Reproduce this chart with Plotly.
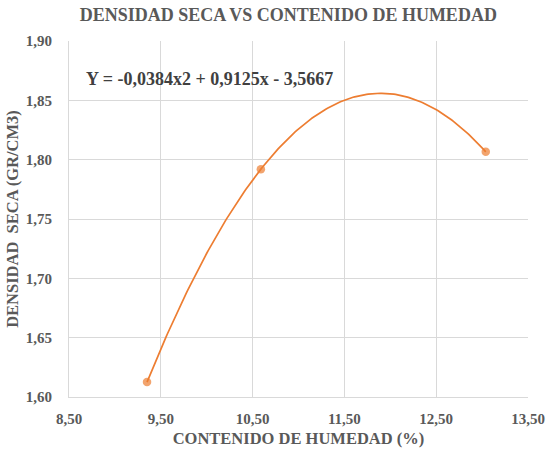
import numpy as np
import plotly.graph_objects as go

# Measured points: moisture content (%) vs dry density (g/cm3)
humedad = [9.35, 10.59, 13.04]
densidad = [1.6126, 1.7920, 1.8066]

x_ticks = [8.5, 9.5, 10.5, 11.5, 12.5, 13.5]
y_ticks = [1.60, 1.65, 1.70, 1.75, 1.80, 1.85, 1.90]

ecuacion = "Y = -0,0384x2 + 0,9125x - 3,5667"

# Second-order polynomial trendline through the measurements
coef = np.polyfit(humedad, densidad, 2)
xs = np.linspace(min(humedad), max(humedad), 200)
ys = np.polyval(coef, xs)

orange = "#ED7D31"
gray = "#595959"
serif = "Liberation Serif, Times New Roman, serif"


def bold(size, color=gray):
    return dict(family=serif, size=size, color=color, weight="bold")


fig = go.Figure()
fig.add_trace(go.Scatter(x=xs, y=ys, mode="lines",
                         line=dict(color=orange, width=1.7),
                         hoverinfo="skip", showlegend=False))
fig.add_trace(go.Scatter(x=humedad, y=densidad, mode="markers",
                         marker=dict(color="rgba(237,125,49,0.7)", size=8.5),
                         showlegend=False))

fig.add_annotation(x=8.66, y=1.868, xref="x", yref="y", text=ecuacion,
                   showarrow=False, xanchor="left", yanchor="middle",
                   font=bold(18, "#404040"))

fig.update_layout(
    width=547, height=453,
    margin=dict(l=69, r=19, t=41, b=56),
    paper_bgcolor="white", plot_bgcolor="white",
    separators=",.",
    title=dict(text="DENSIDAD SECA VS CONTENIDO DE HUMEDAD",
               x=0.527, xanchor="center", y=0.968, yanchor="middle",
               font=bold(18)),
    xaxis=dict(range=[8.5, 13.5], tickvals=x_ticks, tickformat=".2f",
               showgrid=True, gridcolor="#D9D9D9", gridwidth=1,
               zeroline=False, showline=True, linecolor="#D9D9D9",
               ticks="", ticklabelstandoff=8, automargin=False,
               tickfont=bold(15),
               title=dict(text="CONTENIDO DE HUMEDAD (%)", standoff=6,
                          font=bold(16.5))),
    yaxis=dict(range=[1.60, 1.90], tickvals=y_ticks, tickformat=".2f",
               showgrid=True, gridcolor="#D9D9D9", gridwidth=1,
               zeroline=False, showline=True, linecolor="#D9D9D9",
               ticks="", ticklabelstandoff=13, automargin=False,
               tickfont=bold(15),
               title=dict(text="DENSIDAD  SECA (GR/CM3)", standoff=2,
                          font=bold(16.5))),
)

fig.write_html("out.html")
